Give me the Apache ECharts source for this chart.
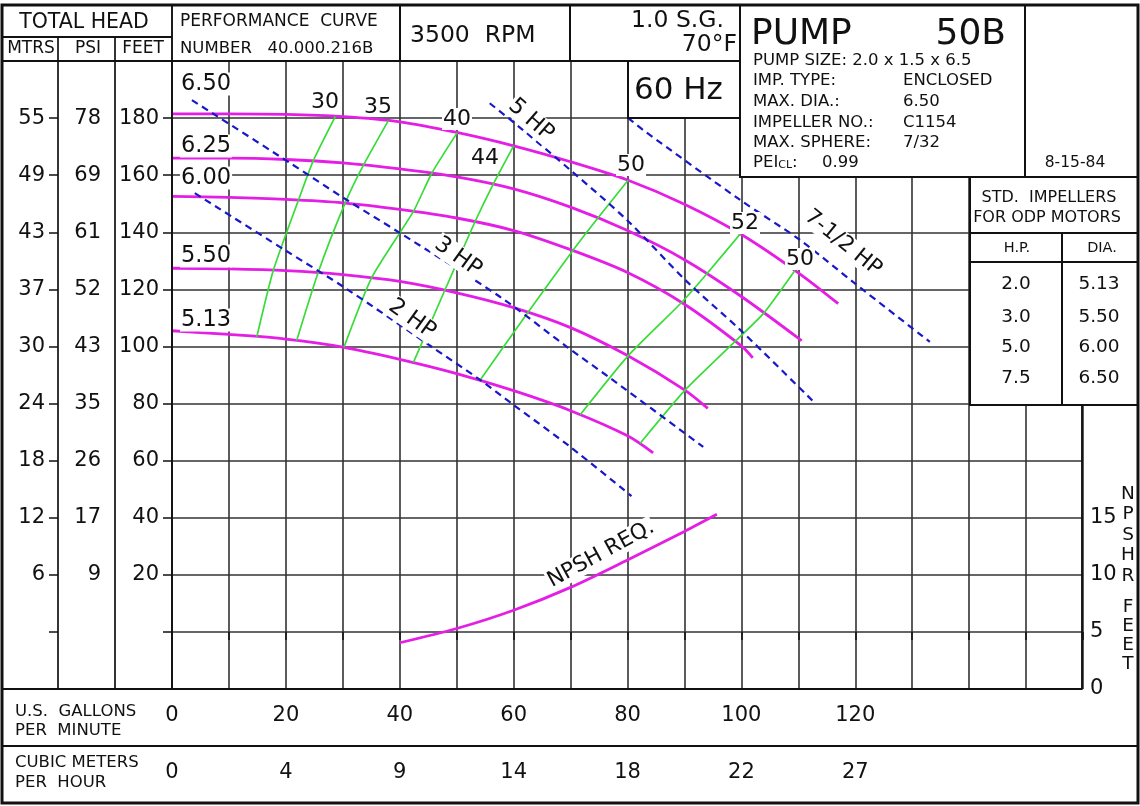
<!DOCTYPE html>
<html>
<head>
<meta charset="utf-8">
<title>Pump 50B performance curve</title>
<script src="https://cdn.jsdelivr.net/npm/echarts/dist/echarts.min.js"></script>
<style>
    html, body { margin: 0; padding: 0; background: #fff; }
    #main { width: 1140px; height: 806px; }
</style>
</head>
<body>
<div id="main"></div>
<script>
// tick labels
var gpmLabels = ['0', '20', '40', '60', '80', '100', '120'];
var m3hLabels = ['0', '4', '9', '14', '18', '22', '27'];
var feetLabels = ['20', '40', '60', '80', '100', '120', '140', '160', '180'];
var psiLabels = ['9', '17', '26', '35', '43', '52', '61', '69', '78'];
var mtrsLabels = ['6', '12', '18', '24', '30', '37', '43', '49', '55'];
var npshLabels = ['0', '5', '10', '15'];

// head curves per impeller dia. [gpm, feet]
var imp650 = [[0,181.5],[10,181.5],[20,181.3],[30,180.5],[40,178.7],[50,175],[60,170.3],[70,164.7],[80,158.3],[90,149.8],[100,139.2],[110,125.8],[117,115]];
var imp625 = [[0,166],[10,166],[20,165.5],[30,164.3],[40,162.2],[50,159.4],[60,155.2],[70,148.8],[80,140.6],[90,130.4],[100,117.5],[110.6,102]];
var imp600 = [[0,152.6],[10,152.2],[20,151.5],[30,150.3],[40,148],[50,145],[60,140.6],[70,133.9],[80,125.9],[90,114.8],[100,100.2],[102,96]];
var imp550 = [[0,127.4],[10,127.2],[20,126.6],[30,125.2],[40,122.8],[50,118.8],[60,113.6],[70,106.6],[80,96.8],[90,84.8],[94.1,78.3]];
var imp513 = [[0,105.5],[10,104.2],[20,102.6],[30,99.8],[40,95.5],[50,90.5],[60,84.5],[70,77.5],[80,68.7],[84.5,62.7]];

// efficiency lines
var eff30 = [[28.7,180.6],[24.8,165],[22.2,151.2],[17.8,126.7],[14.9,103.4]];
var eff35 = [[38,179.1],[33.6,163.4],[30.4,150.2],[25.7,126.1],[21.9,102.1]];
var eff40 = [[50.1,174.9],[45.6,160.6],[42.4,147.3],[35.1,124.2],[30.2,99.7]];
var eff44 = [[60,170.3],[56.4,156.8],[53.2,143.6],[47.9,119.6],[42.4,94.4]];
var eff50a = [[80.1,158.2],[74.8,145],[70.4,133.6],[62.5,111.9],[54.1,88.2]];
var eff52 = [[99.8,139.4],[93.9,125.4],[89.5,115.4],[80.1,96.7],[71.7,76.1]];
var eff50b = [[109.4,126.6],[103.9,111.6],[98.9,101.8],[90.1,84.7],[82.2,66]];

// motor HP lines
var hp2 = [[4,153.7],[19.8,133.8],[30.1,120.9],[45.6,99.9],[54.1,88.3],[60,79.5],[69.9,64.9],[80.7,47.6]];
var hp3 = [[3.5,186.3],[20.4,164.7],[30,152.2],[40,139.8],[57.6,117.4],[69.4,99.8],[76.9,89],[93.3,64.8]];
var hp5 = [[55.8,185.2],[61.6,175.9],[69.9,161.9],[79.9,144.3],[90.4,122.8],[99.8,105.8],[112.9,80.2]];
var hp75 = [[80.1,180.1],[82.7,175.9],[99.8,151.3],[110.3,137.3],[119.6,122.6],[133.1,101.6]];

// NPSH required [gpm, feet]
var npshReq = [[40,4.05],[50,5.3],[60,6.9],[70,8.9],[80,11.3],[90,13.8],[95.7,15.3]];

var font = 'DejaVu Sans';
var ink = '#111';
var gridInk = '#333';
var magenta = '#e41ee4';
var green = '#38dc38';
var blue = '#1818c8';

function everyOther(arr, v) {
    if (v % 20 !== 0) return '';
    return arr[v / 20] || '';
}
function headLabel(arr, v) {
    if (v < 20 || v > 180) return '';
    return arr[v / 20 - 1] || '';
}

function lineSeries(data, color, width, dash, yIdx, smooth) {
    return {
        type: 'line', data: data, xAxisIndex: 0, yAxisIndex: yIdx || 0,
        symbol: 'none', smooth: smooth, silent: true,
        lineStyle: {color: color, width: width, type: dash || 'solid'}
    };
}

// frame helpers
function seg(x1, y1, x2, y2, w) {
    return {type: 'line', silent: true, z: 20, shape: {x1: x1, y1: y1, x2: x2, y2: y2},
        style: {stroke: ink, lineWidth: w || 2}};
}
function box(x, y, w, h) {
    return {type: 'rect', silent: true, z: 15, shape: {x: x, y: y, width: w, height: h},
        style: {fill: '#fff', stroke: ink, lineWidth: 2}};
}
function txt(s, x, y, size, align, extra) {
    var st = {text: s, fontSize: size, fontFamily: font, fill: ink,
        align: align || 'left', verticalAlign: 'middle'};
    var el = {type: 'text', silent: true, z: 25, x: x, y: y, style: st};
    if (extra) {
        if (extra.bg) { st.backgroundColor = '#fff'; st.padding = [0, 1]; }
        if (extra.rot) el.rotation = extra.rot;
        if (extra.lh) st.lineHeight = extra.lh;
    }
    return el;
}

var myChart = echarts.init(document.getElementById('main'));
var option = null;
option = {
    animation: false,
    backgroundColor: '#fff',
    textStyle: {fontFamily: font},
    grid: {left: 172, top: 61, width: 911, height: 628, containLabel: false, outerBoundsMode: 'none'},
    xAxis: [{
        type: 'value', min: 0, max: 160, interval: 10, position: 'bottom',
        axisLine: {show: false},
        axisTick: {show: true, length: 8, lineStyle: {color: ink, width: 1.5}},
        axisLabel: {formatter: function (v) { return everyOther(gpmLabels, v); },
            margin: 16, fontSize: 21, color: ink, fontFamily: font},
        splitLine: {show: true, lineStyle: {color: gridInk, width: 1.6}}
    }, {
        type: 'value', min: 0, max: 160, interval: 10, position: 'bottom', offset: 57,
        axisLine: {show: false},
        axisTick: {show: true, length: 7, lineStyle: {color: ink, width: 1.5}},
        axisLabel: {formatter: function (v) { return everyOther(m3hLabels, v); },
            margin: 16, fontSize: 21, color: ink, fontFamily: font},
        splitLine: {show: false}
    }],
    yAxis: [{
        // FEET
        type: 'value', min: -20, max: 200, interval: 20, position: 'left',
        axisLine: {show: false},
        axisTick: {show: true, length: 9, lineStyle: {color: ink, width: 1.5}},
        axisLabel: {formatter: function (v) { return headLabel(feetLabels, v); },
            margin: 13, fontSize: 21, color: ink, fontFamily: font},
        splitLine: {show: true, lineStyle: {color: gridInk, width: 1.6}}
    }, {
        // PSI
        type: 'value', min: -20, max: 200, interval: 20, position: 'left', offset: 57,
        axisLine: {show: false},
        axisTick: {show: true, length: 9, lineStyle: {color: ink, width: 1.5}},
        axisLabel: {formatter: function (v) { return headLabel(psiLabels, v); },
            margin: 14, fontSize: 21, color: ink, fontFamily: font},
        splitLine: {show: false}
    }, {
        // MTRS
        type: 'value', min: -20, max: 200, interval: 20, position: 'left', offset: 114,
        axisLine: {show: false},
        axisTick: {show: true, length: 9, lineStyle: {color: ink, width: 1.5}},
        axisLabel: {formatter: function (v) { return headLabel(mtrsLabels, v); },
            margin: 13, fontSize: 21, color: ink, fontFamily: font},
        splitLine: {show: false}
    }, {
        // NPSHR feet
        type: 'value', min: 0, max: 55, interval: 5, position: 'right',
        axisLine: {show: false},
        axisTick: {show: false},
        axisLabel: {formatter: function (v) { return npshLabels[v / 5] || ''; },
            margin: 7, fontSize: 21, color: ink, fontFamily: font},
        splitLine: {show: false}
    }],
    series: [
        lineSeries(imp650, magenta, 2.8, null, 0, 0.3),
        lineSeries(imp625, magenta, 2.8, null, 0, 0.3),
        lineSeries(imp600, magenta, 2.8, null, 0, 0.3),
        lineSeries(imp550, magenta, 2.8, null, 0, 0.3),
        lineSeries(imp513, magenta, 2.8, null, 0, 0.3),
        lineSeries(eff30, green, 1.7, null, 0, 0.2),
        lineSeries(eff35, green, 1.7, null, 0, 0.2),
        lineSeries(eff40, green, 1.7, null, 0, 0.2),
        lineSeries(eff44, green, 1.7, null, 0, 0.2),
        lineSeries(eff50a, green, 1.7, null, 0, 0.2),
        lineSeries(eff52, green, 1.7, null, 0, 0.2),
        lineSeries(eff50b, green, 1.7, null, 0, 0.2),
        lineSeries(hp2, blue, 2.2, [7, 5], 0, 0.3),
        lineSeries(hp3, blue, 2.2, [7, 5], 0, 0.3),
        lineSeries(hp5, blue, 2.2, [7, 5], 0, 0.3),
        lineSeries(hp75, blue, 2.2, [7, 5], 0, 0.3),
        lineSeries(npshReq, magenta, 2.8, null, 3, 0.3)
    ],
    graphic: {elements: [
        // boxes over the grid
        box(628, 61, 112, 57),
        box(740, 5, 398, 172),
        box(970, 177, 168, 228),
        // frame lines
        {type: 'rect', silent: true, z: 20, shape: {x: 2, y: 5, width: 1136, height: 798},
            style: {fill: null, stroke: ink, lineWidth: 3}},
        seg(2, 37, 172, 37), seg(2, 61, 740, 61),
        seg(58, 37, 58, 689, 1.7), seg(115, 37, 115, 689, 1.7), seg(172, 5, 172, 689, 1.9),
        seg(400, 5, 400, 61), seg(570, 5, 570, 61), seg(740, 5, 740, 177),
        seg(1025, 5, 1025, 177), seg(740, 177, 1138, 177),
        seg(970, 233, 1138, 233), seg(970, 262, 1138, 262), seg(1062, 233, 1062, 405),
        seg(1082, 405, 1082, 689, 1.9),
        seg(2, 689, 1082, 689), seg(2, 746, 1138, 746),

        // header texts
        txt('TOTAL HEAD', 84, 23, 20.5, 'center'),
        txt('MTRS', 31, 49, 17, 'center'),
        txt('PSI', 88, 49, 17, 'center'),
        txt('FEET', 143, 49, 17, 'center'),
        txt('PERFORMANCE  CURVE', 180, 22, 17),
        txt('NUMBER   40.000.216B', 180, 49, 16.5),
        txt('3500  RPM', 410, 36, 23.5),
        txt('1.0 S.G.', 724, 21, 23.5, 'right'),
        txt('70°F', 737, 45, 23.5, 'right'),
        txt('60 Hz', 634, 91, 31),
        txt('PUMP', 751, 35, 36),
        txt('50B', 1006, 35, 36, 'right'),
        txt('PUMP SIZE: 2.0 x 1.5 x 6.5', 753, 61, 16.5),
        txt('IMP. TYPE:', 753, 81, 16.5), txt('ENCLOSED', 903, 81, 16.5),
        txt('MAX. DIA.:', 753, 102, 16.5), txt('6.50', 903, 102, 16.5),
        txt('IMPELLER NO.:', 753, 123, 16.5), txt('C1154', 903, 123, 16.5),
        txt('MAX. SPHERE:', 753, 143, 16.5), txt('7/32', 903, 143, 16.5),
        {type: 'text', silent: true, z: 25, x: 753, y: 163, style: {
            text: '{a|PEI}{b|CL}{a|:}', fontFamily: font, fill: ink, align: 'left', verticalAlign: 'middle',
            rich: {a: {fontSize: 16.5, fontFamily: font}, b: {fontSize: 11, fontFamily: font, padding: [4, 0, 0, 0]}}
        }},
        txt('0.99', 822, 163, 16.5),
        txt('8-15-84', 1075, 163, 15.5, 'center'),

        // std impellers table
        txt('STD.  IMPELLERS', 1049, 198, 16, 'center'),
        txt('FOR ODP MOTORS', 1047, 218, 16, 'center'),
        txt('H.P.', 1017, 248, 14.5, 'center'),
        txt('DIA.', 1102, 248, 14.5, 'center'),
        txt('2.0', 1016, 284, 18.5, 'center'), txt('5.13', 1099, 284, 18.5, 'center'),
        txt('3.0', 1016, 317, 18.5, 'center'), txt('5.50', 1099, 317, 18.5, 'center'),
        txt('5.0', 1016, 347, 18.5, 'center'), txt('6.00', 1099, 347, 18.5, 'center'),
        txt('7.5', 1016, 378, 18.5, 'center'), txt('6.50', 1099, 378, 18.5, 'center'),

        // impeller diameter labels
        txt('6.50', 180, 84, 22.5, 'left', {bg: 1}),
        txt('6.25', 180, 146, 22.5, 'left', {bg: 1}),
        txt('6.00', 180, 178, 22.5, 'left', {bg: 1}),
        txt('5.50', 180, 256, 22.5, 'left', {bg: 1}),
        txt('5.13', 180, 320, 22.5, 'left', {bg: 1}),

        // efficiency labels
        txt('30', 325, 102, 22, 'center'),
        txt('35', 378, 107, 22, 'center'),
        txt('40', 457, 119, 22, 'center', {bg: 1}),
        txt('44', 485, 158, 22, 'center'),
        txt('50', 631, 165, 22, 'center', {bg: 1}),
        txt('52', 745, 223, 22, 'center', {bg: 1}),
        txt('50', 800, 259, 22, 'center', {bg: 1}),

        // hp labels
        txt('5 HP', 531, 120, 22.5, 'center', {bg: 1, rot: -0.72}),
        txt('3 HP', 458, 257, 22.5, 'center', {bg: 1, rot: -0.62}),
        txt('2 HP', 412, 319, 22.5, 'center', {bg: 1, rot: -0.62}),
        txt('7-1/2 HP', 843, 243, 21.5, 'center', {bg: 1, rot: -0.68}),
        txt('NPSH REQ.', 601, 554, 21.5, 'center', {bg: 1, rot: 0.5}),

        // npshr side label
        txt('N\nP\nS\nH\nR', 1128, 535, 18.5, 'center', {lh: 20.5}),
        txt('F\nE\nE\nT', 1128, 636, 18.5, 'center', {lh: 19}),

        // bottom left
        txt('U.S.  GALLONS', 15, 712, 16.5),
        txt('PER  MINUTE', 15, 731, 16.5),
        txt('CUBIC METERS', 15, 763, 16.5),
        txt('PER  HOUR', 15, 783, 16.5)
    ]}
};
if (option && typeof option === "object") {
    myChart.setOption(option, true);
}
</script>
</body>
</html>
